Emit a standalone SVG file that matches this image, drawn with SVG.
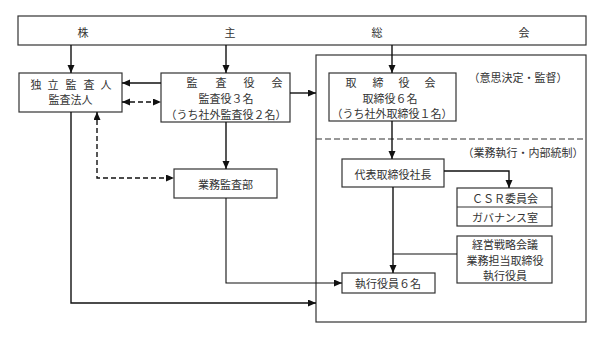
<svg xmlns="http://www.w3.org/2000/svg" width="605" height="338" viewBox="0 0 605 338">
<style>
.box{fill:#fff;stroke:#333;stroke-width:1.2}
.frame{fill:none;stroke:#333;stroke-width:1.2}
.t{font-family:"Noto Sans CJK JP","Noto Sans CJK SC",sans-serif;font-size:11px;fill:#333;text-anchor:middle;dominant-baseline:central}
.c{fill:none;stroke:#111;stroke-width:1.4}
.d{fill:none;stroke:#111;stroke-width:1.4;stroke-dasharray:5 3}
.thin{fill:none;stroke:#111;stroke-width:1.1}
</style>
<defs>
<marker id="ah" markerUnits="userSpaceOnUse" markerWidth="9" markerHeight="8" refX="8" refY="3.5" orient="auto-start-reverse">
<path d="M0,0 L8,3.5 L0,7 z" fill="#111"/>
</marker>
</defs>
<g id="shareholders">
<rect class="box" x="18" y="16" width="568" height="29"/>
<text class="t" x="83" y="31.5">株</text>
<text class="t" x="230" y="31.5">主</text>
<text class="t" x="377" y="31.5">総</text>
<text class="t" x="524" y="31.5">会</text>
</g>
<g id="outer-frame">
<rect class="frame" x="316" y="55" width="270" height="267"/>
<line x1="316" y1="139" x2="586" y2="139" stroke="#333" stroke-width="1.2" stroke-dasharray="6 3"/>
<text class="t" x="518" y="77">（意思決定・監督）</text>
<text class="t" x="523" y="152">（業務執行・内部統制）</text>
</g>
<g id="auditor">
<rect class="box" x="19" y="73" width="103" height="39"/>
<text class="t" x="36" y="84">独</text>
<text class="t" x="53" y="84">立</text>
<text class="t" x="71" y="84">監</text>
<text class="t" x="89" y="84">査</text>
<text class="t" x="106" y="84">人</text>
<text class="t" x="70.5" y="99">監査法人</text>
</g>
<g id="kansayakukai">
<rect class="box" x="161" y="73" width="129" height="49"/>
<text class="t" x="192" y="82">監</text>
<text class="t" x="221" y="82">査</text>
<text class="t" x="249" y="82">役</text>
<text class="t" x="277" y="82">会</text>
<text class="t" x="226" y="98">監査役３名</text>
<text class="t" x="226" y="113.5">（うち社外監査役２名）</text>
</g>
<g id="torishimariyakukai">
<rect class="box" x="329" y="73" width="127" height="48"/>
<text class="t" x="351" y="82">取</text>
<text class="t" x="378" y="82">締</text>
<text class="t" x="404" y="82">役</text>
<text class="t" x="430" y="82">会</text>
<text class="t" x="390" y="97.5">取締役６名</text>
<text class="t" x="392" y="113">（うち社外取締役１名）</text>
</g>
<g id="gyomukansabu">
<rect class="box" x="174" y="169" width="103" height="29"/>
<text class="t" x="225.5" y="184">業務監査部</text>
</g>
<g id="shacho">
<rect class="box" x="342" y="159" width="102" height="28"/>
<text class="t" x="393" y="174">代表取締役社長</text>
</g>
<g id="csr">
<rect class="box" x="457" y="188" width="95" height="38"/>
<line x1="457" y1="207" x2="552" y2="207" stroke="#333" stroke-width="1.2"/>
<text class="t" x="505" y="198">ＣＳＲ委員会</text>
<text class="t" x="505" y="217">ガバナンス室</text>
</g>
<g id="keiei">
<rect class="box" x="457" y="236" width="95" height="47"/>
<text class="t" x="505" y="244">経営戦略会議</text>
<text class="t" x="505" y="259.5">業務担当取締役</text>
<text class="t" x="505" y="275">執行役員</text>
</g>
<g id="shikko">
<rect class="box" x="342" y="273" width="93" height="20"/>
<text class="t" x="388" y="283">執行役員６名</text>
</g>
<g id="connectors">
<path class="c" d="M71,45 V73" marker-end="url(#ah)"/>
<path class="c" d="M226,45 V73" marker-end="url(#ah)"/>
<path class="c" d="M392,45 V73" marker-end="url(#ah)"/>
<path class="c" d="M161,83 H122" marker-end="url(#ah)"/>
<path class="d" d="M122,102 H161" marker-start="url(#ah)" marker-end="url(#ah)"/>
<path class="c" d="M290,93 H316" marker-end="url(#ah)"/>
<path class="d" d="M97,112 V178 H174" marker-start="url(#ah)" marker-end="url(#ah)"/>
<path class="c" d="M226,122 V169" marker-end="url(#ah)"/>
<path class="c" d="M392,121 V159" marker-end="url(#ah)"/>
<path class="c" d="M444,171 H509 V188" marker-end="url(#ah)"/>
<path class="c" d="M393,187 V273" marker-end="url(#ah)"/>
<path class="thin" d="M457,254 H393"/>
<path class="thin" d="M226,198 V283 H342" marker-end="url(#ah)"/>
<path class="c" d="M71,112 V303 H316" marker-end="url(#ah)"/>
</g>
</svg>
